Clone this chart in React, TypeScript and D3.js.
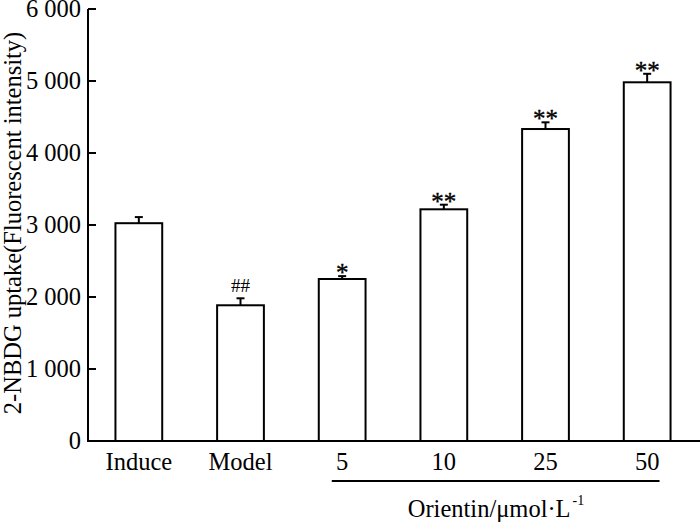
import React from "react";
import * as d3 from "d3";

// groups on the x axis
const groups = ["Induce", "Model", "5", "10", "25", "50"];
// mean 2-NBDG uptake (fluorescent intensity)
const means = [3025, 1885, 2250, 3218, 4333, 4982];
// upper end of the error bar
const errTops = [3110, 1982, 2290, 3282, 4426, 5100];
// significance marks above bars
const marks = ["", "##", "*", "**", "**", "**"];
const yTicks = [0, 1000, 2000, 3000, 4000, 5000, 6000];

const W = 700;
const H = 523;
const font = "'Liberation Serif', 'Times New Roman', serif";
const fs = 24.5;

const locale = d3.formatLocale({
  decimal: ".",
  thousands: " ",
  grouping: [3],
  currency: ["", ""],
});
const fmt = locale.format(",");

export default function App() {
  const x0 = 88;
  const y0 = 441;

  const x = d3
    .scaleBand<string>()
    .domain(groups)
    .range([x0, 698])
    .paddingInner(0.54)
    .paddingOuter(0.27);

  const y = d3.scaleLinear().domain([0, 6000]).range([y0, 9]);

  const bw = x.bandwidth();
  const first = x("5")!;
  const last = x("50")! + bw;

  return (
    <svg
      width={W}
      height={H}
      style={{ position: "absolute", left: 0, top: 0, background: "#fff" }}
      fontFamily={font}
    >
      {/* bars */}
      {groups.map((g, i) => {
        const bx = x(g)!;
        const cx = bx + bw / 2;
        const top = y(means[i]);
        const et = y(errTops[i]);
        return (
          <g key={g}>
            <rect
              x={bx}
              y={top}
              width={bw}
              height={y0 - top}
              fill="#fff"
              stroke="#000"
              strokeWidth={2}
            />
            <line x1={cx} x2={cx} y1={top} y2={et} stroke="#000" strokeWidth={2} />
            <line x1={cx - 4} x2={cx + 4} y1={et} y2={et} stroke="#000" strokeWidth={2} />
            {marks[i] === "##" ? (
              <text x={cx} y={et - 6} textAnchor="middle" fontSize={19}>
                {marks[i]}
              </text>
            ) : marks[i] ? (
              <text
                x={cx}
                y={et + 5}
                textAnchor="middle"
                fontSize={25}
                stroke="#000"
                strokeWidth={0.4}
              >
                {marks[i]}
              </text>
            ) : null}
            <text x={cx} y={470} textAnchor="middle" fontSize={fs}>
              {g}
            </text>
          </g>
        );
      })}

      {/* axes */}
      <line x1={x0} x2={W} y1={y0} y2={y0} stroke="#000" strokeWidth={2} />
      <line x1={x0} x2={x0} y1={y(6000)} y2={y0 + 1} stroke="#000" strokeWidth={2} />
      {yTicks.map((t) => (
        <g key={t}>
          <line x1={x0} x2={x0 + 8} y1={y(t)} y2={y(t)} stroke="#000" strokeWidth={2} />
          <text x={81} y={y(t) + 8} textAnchor="end" fontSize={fs}>
            {fmt(t)}
          </text>
        </g>
      ))}

      <text
        transform={`translate(21,223) rotate(-90)`}
        textAnchor="middle"
        fontSize={fs}
      >
        2-NBDG uptake(Fluorescent intensity)
      </text>

      {/* orientin group */}
      <line x1={first + 13} x2={last - 11} y1={481} y2={481} stroke="#000" strokeWidth={2} />
      <text x={496} y={517} fontSize={fs} textAnchor="middle">
        Orientin/μmol·L
        <tspan fontSize={14} dx={2} dy={-12}>
          -1
        </tspan>
      </text>
    </svg>
  );
}
